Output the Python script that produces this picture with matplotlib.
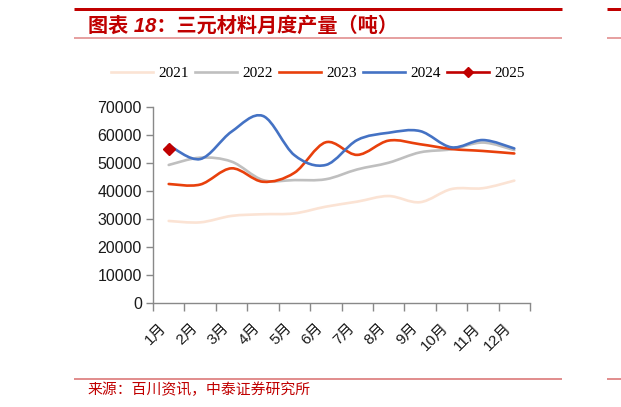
import matplotlib
matplotlib.use("Agg")
import matplotlib.pyplot as plt
import numpy as np
from matplotlib.path import Path
from matplotlib.patches import PathPatch
from matplotlib.lines import Line2D

plt.rcParams['font.family'] = ['Liberation Sans', 'Noto Sans CJK SC', 'DejaVu Sans']

months = ['1月', '2月', '3月', '4月', '5月', '6月', '7月', '8月', '9月', '10月', '11月', '12月']
y2021 = [29300, 28800, 31100, 31700, 32000, 34400, 36200, 38200, 36000, 40700, 41000, 43700]
y2022 = [49300, 51900, 50500, 43900, 43900, 44200, 47700, 50100, 53800, 54900, 57300, 54600]
y2023 = [42500, 42300, 48100, 43300, 46500, 57400, 52900, 58000, 56700, 55000, 54300, 53400]
y2024 = [56400, 51400, 61200, 66800, 52800, 49300, 58200, 60800, 61400, 55600, 58200, 55200]
y2025 = [55000]
series_names = ['2021', '2022', '2023', '2024', '2025']
yticks = [0, 10000, 20000, 30000, 40000, 50000, 60000, 70000]

colors = ['#FBE3D4', '#BFBFBF', '#E8400C', '#4472C4', '#C00000']

W, H = 621, 407
fig = plt.figure(figsize=(W / 100, H / 100), dpi=100)
ax = fig.add_axes([153 / W, 1 - 303 / H, (530 - 153) / W, (303 - 107) / H])


def smooth_path(xs, ys):
    """Excel-style smoothed line as cubic Bezier path through data points."""
    pts = np.column_stack([xs, ys]).astype(float)
    n = len(pts)
    verts = [pts[0]]
    codes = [Path.MOVETO]
    for i in range(n - 1):
        p0 = pts[i - 1] if i > 0 else pts[i]
        p1 = pts[i]
        p2 = pts[i + 1]
        p3 = pts[i + 2] if i + 2 < n else pts[i + 1]
        c1 = p1 + (p2 - p0) / 6.0
        c2 = p2 - (p3 - p1) / 6.0
        verts += [c1, c2, p2]
        codes += [Path.CURVE4] * 3
    return Path(verts, codes)


x = np.arange(len(months))
lw = 1.9
for ys, c in zip([y2021, y2022, y2023, y2024], colors[:4]):
    p = smooth_path(x[:len(ys)], ys)
    ax.add_patch(PathPatch(p, facecolor='none', edgecolor=c, lw=lw,
                           capstyle='round', joinstyle='round'))
ax.plot(x[:len(y2025)], y2025, color=colors[4], lw=lw, marker='D', markersize=6,
        markeredgecolor=colors[4], zorder=5)

ax.set_xlim(-0.5, len(months) - 0.5)
ax.set_ylim(0, 70000)
ax.set_yticks(yticks)
ax.set_yticklabels([str(v) for v in yticks], fontsize=11.5, color='#1a1a1a')
ax.set_xticks(np.arange(-0.5, len(months), 1.0))
ax.set_xticklabels([])
ax.set_xticks(x, minor=True)
ax.set_xticklabels(months, minor=True, rotation=45, ha='right', va='top',
                   fontsize=11, color='#1a1a1a')
ax.tick_params(axis='x', which='minor', length=0, pad=13)
ax.tick_params(axis='x', which='major', length=6, width=1, color='#898989')
ax.tick_params(axis='y', length=5, width=1, color='#898989', pad=3)
for s in ['top', 'right']:
    ax.spines[s].set_visible(False)
for s in ['left', 'bottom']:
    ax.spines[s].set_color('#898989')
    ax.spines[s].set_linewidth(1)

handles = [Line2D([], [], color=c, lw=lw) for c in colors[:4]]
handles.append(Line2D([], [], color=colors[4], lw=lw, marker='D', markersize=5))
fig.legend(handles, series_names, loc='center', bbox_to_anchor=(318 / W, 1 - 73 / H),
           ncol=5, frameon=False, handlelength=2.75, handletextpad=0.35,
           columnspacing=0.4, prop={'family': 'Liberation Serif', 'size': 11})

# header / footer decoration
def hline(x0, x1, y, lw_px, color):
    fig.add_artist(Line2D([x0 / W, x1 / W], [1 - y / H, 1 - y / H], lw=lw_px * 0.72,
                          color=color, solid_capstyle='butt'))

hline(74, 562, 8.5, 3, '#C00000')
hline(607, 621, 8.5, 3, '#C00000')
hline(74, 562, 38, 1.6, '#E08A8A')
hline(607, 621, 38, 1.6, '#E08A8A')
hline(74, 562, 379, 1.5, '#D86A6A')
hline(607, 621, 379, 1.5, '#D86A6A')

fig.text(88 / W, 1 - 24 / H, '图表 18：三元材料月度产量（吨）', fontsize=14.5, fontweight='bold',
         style='italic', color='#C00000', va='center_baseline', ha='left')
fig.text(87 / W, 1 - 390 / H, '来源：百川资讯，中泰证券研究所', fontsize=10.7,
         color='#C00000', va='center', ha='left',
         family=['Noto Sans CJK SC', 'DejaVu Sans'])

fig.savefig('out.png', dpi=100)
